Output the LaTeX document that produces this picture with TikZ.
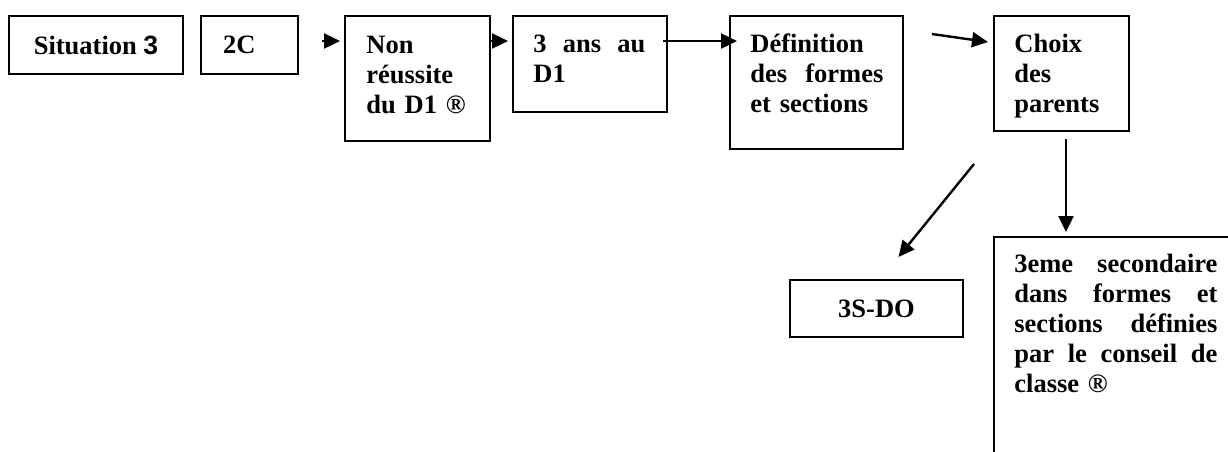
\documentclass[tikz,border=0pt]{standalone}
\usepackage{fontspec}
\setmainfont{Liberation Serif}
\setsansfont{Liberation Sans}
\usetikzlibrary{arrows.meta}

\tikzset{
    box/.style={draw, line width=1pt, anchor=north west, inner sep=0pt},
    lbl/.style={anchor=base west, inner sep=0pt, align=left},
    arr/.style={line width=1.2pt, -{Triangle[length=8pt,width=7.5pt]}},
}

\begin{document}
\begin{tikzpicture}[x=0.5pt, y=-0.5pt, font=\fontsize{13.25pt}{15pt}\selectfont\bfseries]

    \clip (0,0) rectangle (1228,451);

    % boxes, top row
    \node[box, minimum width=87pt, minimum height=29pt] (sit) at (8,15) {Situation {\sffamily 3}};
    \node[box, minimum height=29pt, inner xsep=11pt, text width=26.5pt] (c2) at (200,15) {2C};
    \node[box, minimum width=72.5pt, minimum height=62.5pt] (non) at (344,15) {};
    \node[box, minimum width=77pt, minimum height=48pt] (ans) at (512,15) {};
    \node[box, minimum width=86.5pt, minimum height=66.5pt] (def) at (729,15) {};
    \node[box, minimum width=67.5pt, minimum height=57.5pt] (cho) at (993,15) {};

    % boxes, bottom
    \node[box, minimum width=86.5pt, minimum height=28.5pt] (do3) at (789,279) {3S-DO};
    \node[box, minimum width=150pt, minimum height=130pt] (big) at (993,236) {};

    % texts in the tall boxes
    \node[lbl, text width=50.5pt] (tnon) at ([shift={(22,38)}]non.north west) {Non\\réussite\\du D1 ®};
    \node[lbl, text width=56pt] (tans) at ([shift={(21,37)}]ans.north west) {3 \hfill ans \hfill au\\D1};
    \node[lbl, text width=66.5pt] (tdef) at ([shift={(21,37)}]def.north west) {Définition\\des \hfill formes\\et sections};
    \node[lbl, text width=46.5pt] (tcho) at ([shift={(21,37)}]cho.north west) {Choix\\des\\parents};
    \node[lbl, text width=101.5pt] (tbig) at ([shift={(21,36)}]big.north west) {3eme \hfill secondaire\\dans \hfill formes \hfill et\\sections \hfill définies\\par \hfill le \hfill conseil \hfill de\\classe ®};

    % connectors
    \coordinate (lvl) at (0,41);
    \draw[arr, shorten <=11.5pt, shorten >=2pt] (c2.east |- lvl) -- (non.west |- lvl); % 2C -> Non
    \draw[arr, shorten >=2pt] (non.east |- lvl) -- (ans.west |- lvl); % Non -> 3 ans
    \draw[arr, shorten <=-2.5pt, shorten >=-4pt] (ans.east |- lvl) -- (def.west |- lvl); % 3 ans -> Def
    \draw[arr] ([shift={(28,19)}]def.north east) -- ([shift={(-5,27)}]cho.north west); % Def -> Choix
    \draw[arr, shorten <=3.5pt, shorten >=2pt] ([xshift=2.25pt]cho.south) -- ([xshift=2.25pt]cho.south |- big.north); % Choix -> 3eme
    \draw[arr] ([shift={(-19,32)}]cho.south west) -- ([shift={(22,-22)}]do3.north); % Choix -> 3S-DO

\end{tikzpicture}
\end{document}
